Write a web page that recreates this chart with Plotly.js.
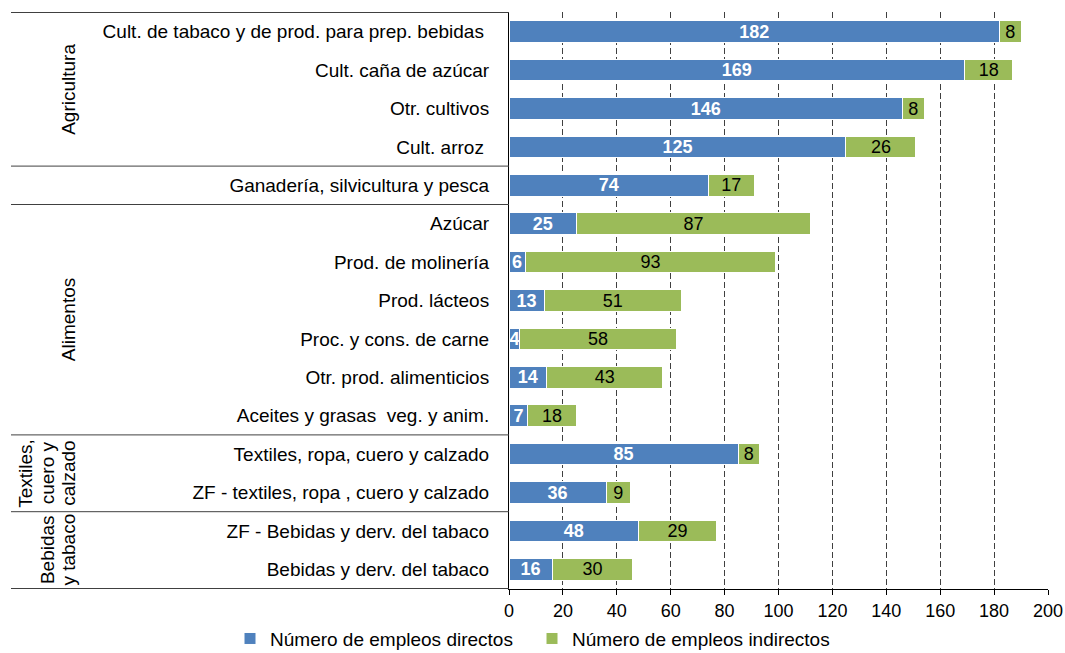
<!DOCTYPE html>
<html>
<head>
<meta charset="utf-8">
<script src="https://cdn.plot.ly/plotly-3.0.1.min.js"></script>
<style>html,body{margin:0;padding:0;background:#fff;}#chart{width:1065px;height:653px;}</style>
</head>
<body>
<div id="chart"></div>
<script>
var categories = [
  'Cult. de tabaco y de prod. para prep. bebidas\u00a0',
  'Cult. caña de azúcar',
  'Otr. cultivos',
  'Cult. arroz\u00a0',
  'Ganadería, silvicultura y pesca',
  'Azúcar',
  'Prod. de molinería',
  'Prod. lácteos',
  'Proc. y cons. de carne',
  'Otr. prod. alimenticios',
  'Aceites y grasas\u00a0 veg. y anim.',
  'Textiles, ropa, cuero y calzado',
  'ZF - textiles, ropa , cuero y calzado',
  'ZF - Bebidas y derv. del tabaco',
  'Bebidas y derv. del tabaco'
];
var directos   = [182, 169, 146, 125, 74, 25, 6, 13, 4, 14, 7, 85, 36, 48, 16];
var indirectos = [8, 18, 8, 26, 17, 87, 93, 51, 58, 43, 18, 8, 9, 29, 30];
var seriesNames = ['Número de empleos directos', 'Número de empleos indirectos'];
var groupNames = ['Agricultura', '', 'Alimentos', 'Textiles,<br>cuero y<br>calzado', 'Bebidas<br>y tabaco'];
var groupSizes = [4, 1, 6, 2, 2];
var xTicks = [0, 20, 40, 60, 80, 100, 120, 140, 160, 180, 200];

var FONT = 'Liberation Sans, Arial, sans-serif';
var FS_TEXT = 19;
var FS_NUM = 18;

var traces = [
  {
    type: 'bar', orientation: 'h', name: seriesNames[0],
    y: categories, x: directos,
    marker: {color: '#4F81BD', line: {color: '#ffffff', width: 1}},
    texttemplate: '%{x}', textposition: 'inside', insidetextanchor: 'middle',
    constraintext: 'none', textangle: 0, cliponaxis: false,
    textfont: {family: FONT, size: FS_NUM, color: '#ffffff', weight: 'bold'},
    hoverinfo: 'x+y'
  },
  {
    type: 'bar', orientation: 'h', name: seriesNames[1],
    y: categories, x: indirectos,
    marker: {color: '#9BBB59', line: {color: '#ffffff', width: 1}},
    texttemplate: '%{x}', textposition: 'inside', insidetextanchor: 'middle',
    constraintext: 'none', textangle: 0, cliponaxis: false,
    textfont: {family: FONT, size: FS_NUM, color: '#000000'},
    hoverinfo: 'x+y'
  }
];

// group separators and labels
var plotL = 509, plotW = 1065 - 509 - 17;
function px2paper(px) { return (px - plotL) / plotW; }
var lineX0 = px2paper(11);
var lastLineCenter = 68.5, lineStep = 21.5;
var shapes = [];
var annotations = [];
var start = 0;
shapes.push({type: 'line', xref: 'paper', yref: 'y', x0: lineX0, x1: 0, y0: -0.5, y1: -0.5,
  line: {color: '#404040', width: 1}});
for (var g = 0; g < groupSizes.length; g++) {
  var end = start + groupSizes[g];
  shapes.push({type: 'line', xref: 'paper', yref: 'y', x0: lineX0, x1: 0, y0: end - 0.5, y1: end - 0.5,
    line: {color: '#404040', width: 1}});
  if (groupNames[g]) {
    var lines = groupNames[g].split('<br>');
    for (var k = 0; k < lines.length; k++) {
      annotations.push({
        xref: 'paper', yref: 'y',
        x: px2paper(lastLineCenter - (lines.length - 1 - k) * lineStep),
        y: (start + end - 1) / 2,
        text: lines[k], textangle: -90, showarrow: false,
        xanchor: 'center', yanchor: 'middle', align: 'center',
        font: {family: FONT, size: FS_TEXT, color: '#000000'}
      });
    }
  }
  start = end;
}

var layout = {
  width: 1065, height: 653,
  margin: {l: 509, r: 17, t: 12, b: 64, pad: 0, autoexpand: false},
  barmode: 'stack', bargap: 0.44,
  paper_bgcolor: '#ffffff', plot_bgcolor: '#ffffff',
  font: {family: FONT, size: FS_TEXT, color: '#000000'},
  showlegend: true,
  legend: {
    orientation: 'h', x: -0.5176, xanchor: 'left', y: -0.086, yanchor: 'middle',
    font: {family: FONT, size: FS_TEXT, color: '#000000'},
    entrywidth: 257, entrywidthmode: 'pixels', traceorder: 'normal'
  },
  xaxis: {
    range: [0, 200], tickvals: xTicks, ticktext: xTicks.map(String),
    showgrid: true, gridcolor: '#404040', griddash: '6px,3px', gridwidth: 1,
    zeroline: false, showline: true, linecolor: '#000000', linewidth: 1,
    ticks: 'outside', ticklen: 5, tickcolor: '#000000',
    tickfont: {family: FONT, size: FS_NUM, color: '#000000'}
  },
  yaxis: {
    type: 'category', categoryorder: 'array', categoryarray: categories,
    autorange: 'reversed', showgrid: false, zeroline: false,
    showline: true, linecolor: '#000000', linewidth: 1, ticks: '',
    ticklabelstandoff: 15,
    tickfont: {family: FONT, size: FS_TEXT, color: '#000000'}
  },
  shapes: shapes,
  annotations: annotations
};

Plotly.newPlot('chart', traces, layout, {displayModeBar: false, staticPlot: true});
</script>
</body>
</html>
